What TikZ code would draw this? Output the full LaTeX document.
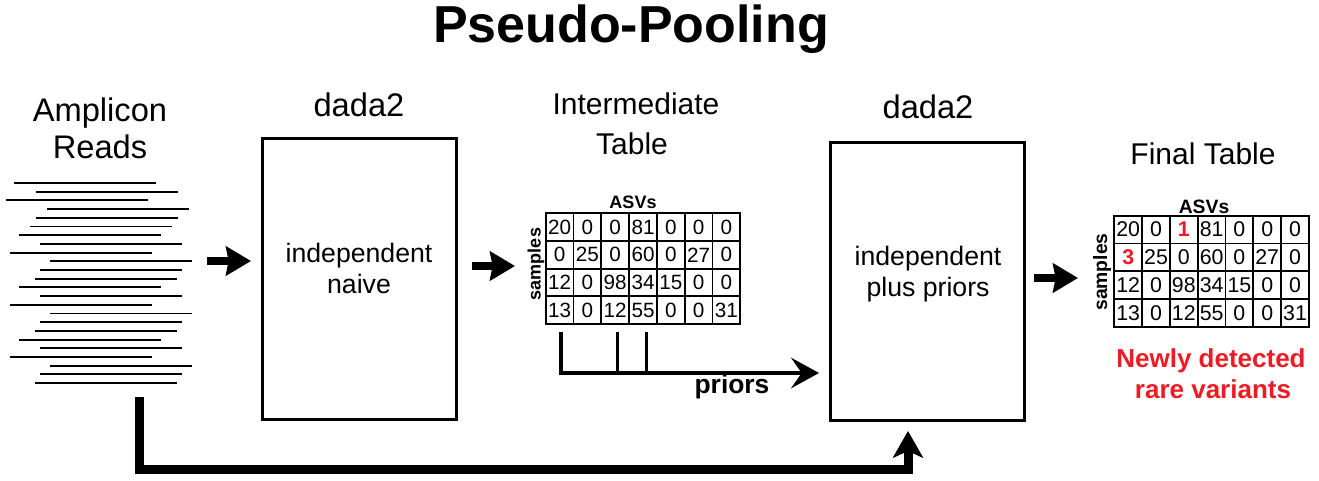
\documentclass[tikz,border=0pt]{standalone}
\usepackage{fontspec}
\setmainfont{Liberation Sans}
\usetikzlibrary{arrows.meta}
\definecolor{rarered}{RGB}{237,28,36}
\newcommand{\rarev}[1]{\textcolor{rarered}{\bfseries #1}}

\begin{document}
\begin{tikzpicture}[x=0.75pt, y=-0.75pt,
    every node/.style={inner sep=0pt, outer sep=0pt},
    heading/.style={anchor=base, font=\fontsize{24.5}{29}\selectfont},
    subheading/.style={anchor=base, font=\fontsize{22.5}{27}\selectfont},
    boxtext/.style={anchor=base, font=\fontsize{20}{24}\selectfont},
    dadabox/.style={draw, line width=2.25pt, minimum width=145.5pt},
    cell/.style={draw, line width=1.4pt, minimum width=20.85pt, minimum height=20.8pt, font=\fontsize{15.5}{17}\selectfont},
    bigcell/.style={cell, font=\fontsize{16}{18}\selectfont},
    readline/.style={line width=1.4pt},
    blockarrow/.style={line width=6pt, -{Stealth[length=18.75pt, width=21.75pt, inset=2pt]}},
    bigarrow/.style={line width=6.75pt, line join=miter, -{Stealth[length=20pt, width=22.5pt, inset=5pt]}},
    priorline/.style={line width=2.25pt},
    priorarrow/.style={line width=2.4pt, -{Stealth[length=21pt, width=23pt, inset=8pt]}}
    ]

    \useasboundingbox (0,0) rectangle (1319,481);

    % title
    \node[anchor=base, font=\bfseries\fontsize{39}{44}\selectfont] (title) at (631,43) {Pseudo-Pooling};

    % amplicon reads
    \node[heading] (reads1) at (100,122) {Amplicon};
    \node[heading] (reads2) at (100,158) {Reads};

    \foreach \xs [count=\i] in {14,36,6,47,36,30,19,40,10,50,40,35,19,40,10,50,40,35,19,40,10,50,40,35}
        \draw[readline] (\xs,{183+8.7*(\i-1)}) -- ++(142,0);

    \coordinate (readsout) at (139.5,397);

    % first dada2 box
    \node[heading] (dada1) at (359,117) {dada2};
    \node[dadabox, minimum height=210pt] (naive) at (359,279) {};
    \node[boxtext] (naive1) at (359,262) {independent};
    \node[boxtext] (naive2) at (359,293) {naive};

    \coordinate (a1s) at (207,261);
    \coordinate (a1e) at (251,261);
    \draw[blockarrow] (a1s) -- (a1e);

    % intermediate table
    \node[subheading] (inter1) at (636,115) {Intermediate};
    \node[subheading] (inter2) at (632,155) {Table};
    \node[anchor=base, font=\bfseries\fontsize{13.5}{16}\selectfont] (asv1) at (633,208) {ASVs};
    \node[rotate=90, font=\bfseries\fontsize{13.5}{16}\selectfont] (samp1) at (536,264) {samples};

    \foreach \row [count=\r] in {{20,0,0,81,0,0,0},{0,25,0,60,0,27,0},{12,0,98,34,15,0,0},{13,0,12,55,0,0,31}}
        \foreach \val [count=\c] in \row
            \node[cell] (t1-\r-\c) at ({545.7+27.8*(\c-0.5)},{213.3+27.7*(\r-0.5)}) {\val};

    \coordinate (a2s) at (472,266);
    \coordinate (a2e) at (515,266);
    \draw[blockarrow] (a2s) -- (a2e);

    % priors
    \coordinate (pb1) at (561,332);
    \coordinate (pb2) at (617,332);
    \coordinate (pb3) at (646,332);
    \coordinate (pcorner) at (561,373);
    \coordinate (pend) at (819,373);
    \draw[priorline] (pb2) -- (pb2 |- pcorner);
    \draw[priorline] (pb3) -- (pb3 |- pcorner);
    \draw[priorarrow] (pb1) -- (pcorner) -- (pend);
    \node[anchor=base, font=\bfseries\fontsize{19.8}{24}\selectfont] (priorlbl) at (732,393) {priors};

    % second dada2 box
    \node[heading] (dada2) at (928,118) {dada2};
    \node[dadabox, minimum height=207.75pt] (priorbox) at (927,281.5) {};
    \node[boxtext] (prior1) at (928,265) {independent};
    \node[boxtext] (prior2) at (928,296) {plus priors};

    \coordinate (a3s) at (1034,278);
    \coordinate (a3e) at (1078,278);
    \draw[blockarrow] (a3s) -- (a3e);

    % final table
    \node[subheading] (final) at (1203,165) {Final Table};
    \node[anchor=base, font=\bfseries\fontsize{14.5}{17}\selectfont] (asv2) at (1204,213) {ASVs};
    \node[rotate=90, font=\bfseries\fontsize{14.5}{17}\selectfont] (samp2) at (1102,272) {samples};

    \foreach \row [count=\r] in {{20,0,\rarev{1},81,0,0,0},{\rarev{3},25,0,60,0,27,0},{12,0,98,34,15,0,0},{13,0,12,55,0,0,31}}
        \foreach \val [count=\c] in \row
            \node[bigcell] (t2-\r-\c) at ({1114.3+27.8*(\c-0.5)},{215.7+27.75*(\r-0.5)}) {\val};

    \node[anchor=base, text=rarered, font=\bfseries\fontsize{19.5}{24}\selectfont] (new1) at (1211,367) {Newly detected};
    \node[anchor=base, text=rarered, font=\bfseries\fontsize{19.5}{24}\selectfont] (new2) at (1213,398) {rare variants};

    % reads go straight into the second run
    \coordinate (bend) at (908,469);
    \coordinate (priorin) at (908,431);
    \draw[bigarrow] (readsout) |- (bend) -- (priorin);

\end{tikzpicture}
\end{document}
